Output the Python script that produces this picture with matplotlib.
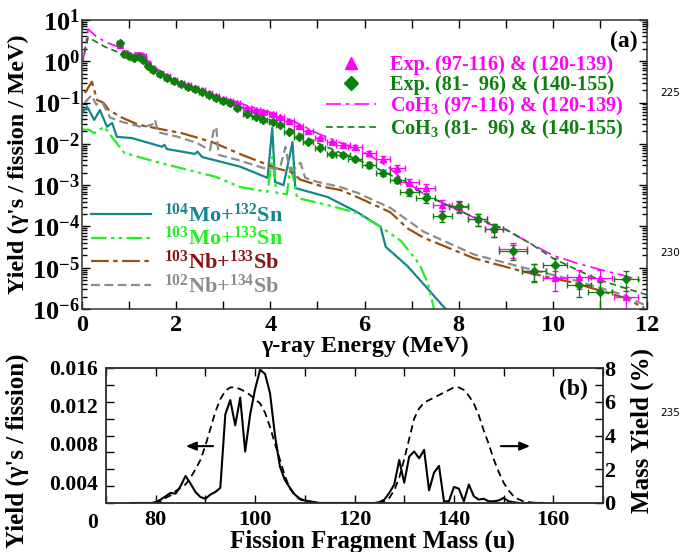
import matplotlib
matplotlib.use('Agg')
import matplotlib.pyplot as plt
import numpy as np
from matplotlib.lines import Line2D
from matplotlib.ticker import MultipleLocator, LogLocator, NullFormatter, FuncFormatter

plt.rcParams['font.family'] = 'Liberation Serif'
plt.rcParams['font.weight'] = 'bold'
plt.rcParams['axes.labelweight'] = 'bold'
plt.rcParams['mathtext.fontset'] = 'custom'
plt.rcParams['mathtext.rm'] = 'Liberation Serif:bold'
plt.rcParams['mathtext.bf'] = 'Liberation Serif:bold'
plt.rcParams['mathtext.it'] = 'Liberation Serif:bold:italic'
plt.rcParams['mathtext.default'] = 'rm'
plt.rcParams['axes.unicode_minus'] = False

# ---- panel (a): experimental gamma spectra ----
exp_E = [0.8, 0.9, 1.0, 1.1, 1.2, 1.3, 1.4, 1.5, 1.65, 1.8, 1.95, 2.1, 2.25, 2.4, 2.55,
         2.7, 2.85, 3.0, 3.15, 3.3, 3.5, 3.7, 3.85, 4.05, 4.2, 4.4, 4.6, 4.8, 5.05, 5.3,
         5.55, 5.8, 6.1, 6.4, 6.7, 6.95, 7.3, 7.65, 8.0, 8.4, 8.75, 9.15, 9.6, 10.05,
         10.55, 11.0, 11.55]
exp_dE = [0.05, 0.05, 0.05, 0.05, 0.05, 0.05, 0.05, 0.05, 0.06, 0.06, 0.06, 0.06, 0.06, 0.06, 0.06,
          0.06, 0.06, 0.06, 0.06, 0.06, 0.08, 0.08, 0.08, 0.08, 0.08, 0.1, 0.1, 0.1, 0.1, 0.1,
          0.15, 0.15, 0.15, 0.15, 0.15, 0.2, 0.2, 0.2, 0.2, 0.2, 0.2, 0.3, 0.25, 0.25,
          0.25, 0.25, 0.25]
exp1_y = [2.5, 1.6, 1.45, 1.35, 1.45, 1.35, 0.9, 0.68, 0.52, 0.43, 0.35, 0.3, 0.26, 0.23, 0.2,
          0.17, 0.145, 0.125, 0.11, 0.095, 0.075, 0.065, 0.058, 0.052, 0.045, 0.035, 0.027, 0.02,
          0.014, 0.011, 0.0093, 0.0083, 0.006, 0.0043, 0.0026, 0.0012, 0.00085, 0.00033, 0.0003,
          0.00015, 8.7e-5, 2.8e-5, 8.5e-6, 5.6e-6, 6e-6, 5.6e-6, 1.9e-6]
exp2_y = [2.8, 1.5, 1.35, 1.2, 1.25, 1.05, 0.78, 0.62, 0.5, 0.4, 0.33, 0.28, 0.24, 0.21, 0.18,
          0.15, 0.13, 0.11, 0.095, 0.075, 0.052, 0.045, 0.038, 0.034, 0.029, 0.0195, 0.0148, 0.011,
          0.0079, 0.0057, 0.0054, 0.0043, 0.0031, 0.002, 0.00135, 0.00069, 0.00049, 0.000178,
          0.00032, 0.00015, 8.7e-5, 2.6e-5, 8.3e-6, 1.17e-5, 3.8e-6, 2.6e-6, 5.4e-6]
exp1_err = [0.06] * 30 + [0.1, 0.12, 0.15, 0.15, 0.18, 0.2, 0.25, 0.3, 0.3, 0.3, 0.35,
                          0.4, 0.45, 0.5, 0.5, 0.55, 0.75]
exp2_err = [0.06] * 30 + [0.1, 0.12, 0.15, 0.15, 0.18, 0.2, 0.25, 0.3, 0.3, 0.3, 0.35,
                          0.4, 0.45, 0.5, 0.5, 0.72, 0.5]

# CoH3 calculations
coh1_E = [0.02, 0.13, 0.3, 0.53, 0.8, 1.0, 1.1, 1.3, 1.4, 1.5, 1.7, 2.0, 2.5, 3.0, 3.5, 4.0,
          4.5, 5.0, 5.5, 6.0, 6.5, 6.8, 7.3, 8.0, 8.5, 9.0, 9.5, 10.0, 10.5, 11.0, 11.5, 11.9]
coh1_y = [1.0, 6.0, 4.0, 2.8, 2.2, 1.7, 1.6, 1.55, 1.2, 0.75, 0.55, 0.32, 0.2, 0.13, 0.085, 0.058,
          0.035, 0.018, 0.0105, 0.0062, 0.0028, 0.0014, 5.7e-4, 2.5e-4, 1.3e-4, 8.3e-5, 4e-5,
          2e-5, 1.3e-5, 9e-6, 6.5e-6, 4.8e-6]
coh2_E = [0.05, 0.13, 0.5, 0.8, 1.0, 1.2, 1.3, 1.5, 2.0, 2.5, 3.0, 3.5, 4.0, 4.5, 5.0, 5.5, 6.0,
          6.5, 7.0, 7.5, 8.0, 8.5, 9.0, 9.5, 10.0, 10.5, 11.0, 11.5, 12.0]
coh2_y = [1.5, 3.8, 2.2, 1.6, 1.2, 1.1, 0.95, 0.62, 0.28, 0.18, 0.115, 0.068, 0.038, 0.021, 0.0105,
          0.006, 0.0035, 0.0019, 0.0009, 4.5e-4, 2.4e-4, 1.4e-4, 8.5e-5, 4e-5, 1.7e-5, 9e-6, 5e-6,
          3.3e-6, 2.2e-6]

# fragment pairs
mo104_E = [0.0, 0.11, 0.26, 0.38, 0.53, 0.64, 0.74, 1.06, 1.7, 1.75, 1.8, 2.4, 2.45, 2.55, 3.36,
           3.94, 4.04, 4.1, 4.28, 4.47, 4.53, 5.21, 5.85, 6.34, 6.45, 6.91, 7.3, 7.72]
mo104_y = [0.056, 0.079, 0.038, 0.066, 0.026, 0.032, 0.0148, 0.0138, 0.0085, 0.0095, 0.0075,
           0.0057, 0.0065, 0.0048, 0.0028, 0.0015, 0.0245, 0.0012, 0.001, 0.011, 0.00085,
           0.00052, 0.00022, 9.8e-5, 3.2e-5, 1.1e-5, 3.5e-6, 1.0e-6]
mo103_E = [0.0, 0.15, 0.26, 0.47, 0.68, 0.9, 1.64, 2.83, 3.36, 3.94, 4.04, 4.13, 4.35, 4.43, 4.57,
           5.21, 5.85, 6.34, 6.77, 7.09, 7.19, 7.34, 7.47, 7.6]
mo103_y = [0.022, 0.022, 0.018, 0.026, 0.0126, 0.006, 0.0035, 0.0016, 9e-4, 6.9e-4, 0.0048,
           6.5e-4, 6e-4, 0.0031, 4.9e-4, 3.3e-4, 2.1e-4, 9.8e-5, 4.5e-5, 1.6e-5, 1.05e-5,
           4.3e-6, 1.07e-6, 5e-7]
nb103_E = [0.06, 0.21, 0.32, 0.45, 0.57, 0.85, 1.2, 1.49, 2.13, 2.77, 3.4, 3.83, 4.1, 4.43, 4.64,
           5.13, 5.49, 5.85, 6.55, 6.91, 7.26, 8.32, 9.38, 10.45, 11.5, 11.94]
nb103_y = [0.17, 0.32, 0.115, 0.1, 0.066, 0.043, 0.029, 0.025, 0.018, 0.011, 0.0054, 0.0035,
           0.0026, 0.0021, 0.00135, 9.1e-4, 7.6e-4, 5.1e-4, 2.2e-4, 9e-5, 5.3e-5, 1.7e-5, 8e-6,
           4.3e-6, 1.9e-6, 1.07e-6]
nb102_E = [0.06, 0.2, 0.3, 0.43, 0.6, 0.85, 1.3, 1.5, 1.55, 1.62, 2.02, 2.44, 2.72, 2.79, 2.85,
           2.9, 3.3, 3.85, 4.2, 4.32, 4.4, 4.5, 4.64, 4.74, 5.0, 5.49, 5.85, 6.55, 7.26, 8.32,
           9.38, 10.45, 11.5, 11.94]
nb102_y = [0.1, 0.15, 0.09, 0.1, 0.043, 0.034, 0.025, 0.03, 0.038, 0.019, 0.015, 0.0105, 0.007,
           0.02, 0.026, 0.0054, 0.0041, 0.0026, 0.0025, 0.0085, 0.0026, 0.0024, 0.0035, 0.0015,
           0.0012, 9e-4, 6.5e-4, 2.8e-4, 7.4e-5, 2.1e-5, 1e-5, 5e-6, 2.2e-6, 1.26e-6]

# ---- panel (b): yield vs fragment mass ----
mass = list(range(75, 159))
gamma_yield = ([0, 0, 0, 0, 0, 0.0001, 0.0004, 0.0008, 0.0012, 0.0011, 0.002, 0.0032, 0.0023,
                0.0013, 0.0007, 0.0005, 0.001, 0.0013, 0.0018, 0.0105, 0.0122, 0.0092, 0.0125,
                0.0061, 0.0105, 0.0135, 0.0158, 0.0153, 0.013, 0.008, 0.0043, 0.0027, 0.0018,
                0.001, 0.0005, 0.0003, 0.0002, 0.0001]
               + [0] * 12
               + [0.0001, 0.0004, 0.0012, 0.0022, 0.0051, 0.0024, 0.0055, 0.0061, 0.0053, 0.0063,
                  0.0015, 0.0036, 0.0044, 0.0002, 0.0002, 0.0019, 0.0017, 0.0002, 0.0022, 0.0008,
                  0.0004, 0.0005, 0.0002, 0.0002, 0.0003, 0.0006, 0.0002, 0.0001]
               + [0] * 6)
mass_yield = ([0] * 5
              + [0.0, 0.1, 0.3, 0.45, 0.7, 0.9, 1.1, 1.5, 2.0, 2.55, 3.4, 4.4, 5.4, 6.15, 6.65,
                 6.85, 6.85, 6.75, 6.6, 6.4, 6.15, 5.9, 5.35, 4.5, 3.5, 2.55, 1.6, 0.85, 0.45,
                 0.22, 0.1, 0.04, 0.0]
              + [0] * 12
              + [0.0, 0.1, 0.3, 0.75, 1.5, 2.6, 3.8, 5.0, 5.6, 5.95, 6.1, 6.25, 6.4, 6.55, 6.7,
                 6.85, 6.85, 6.7, 6.35, 5.9, 5.2, 4.3, 3.5, 2.6, 1.85, 1.2, 0.75, 0.4, 0.22, 0.1,
                 0.05, 0.02, 0.0, 0.0])

magenta = '#ff00ff'
dgreen = '#0b800b'
teal = '#13878c'
lgreen = '#22ee22'
brown = '#99500f'
gray = '#8c8c8c'

fig = plt.figure(figsize=(6.84, 5.52), dpi=100)
ax1 = fig.add_axes([0.1199, 0.4402, 0.8261, 0.5236])

ax1.plot(coh1_E, coh1_y, color=magenta, lw=1.2, ls=(0, (9, 3, 2, 3)))
ax1.plot(coh2_E, coh2_y, color=dgreen, lw=1.2, ls=(0, (4, 2.5)))
ax1.plot(mo104_E, mo104_y, color=teal, lw=1.6)
ax1.plot(mo103_E, mo103_y, color=lgreen, lw=1.6, ls=(0, (7, 2, 1.5, 2, 1.5, 2)))
ax1.plot(nb103_E, nb103_y, color=brown, lw=1.6, ls=(0, (8, 2, 2, 2)))
ax1.plot(nb102_E, nb102_y, color=gray, lw=1.6, ls=(0, (4, 2)))

e1 = np.array(exp1_y) * np.array(exp1_err)
e2 = np.array(exp2_y) * np.array(exp2_err)
ax1.errorbar(exp_E, exp1_y, xerr=exp_dE, yerr=e1, fmt='^', color=magenta, ms=5,
             elinewidth=0.9, capsize=2)
ax1.errorbar(exp_E, exp2_y, xerr=exp_dE, yerr=e2, fmt='D', color=dgreen, ms=4.5,
             elinewidth=0.9, capsize=2)

ax1.set_yscale('log')
ax1.set_xlim(0, 12)
ax1.set_ylim(1e-6, 1e1)
ax1.xaxis.set_major_locator(MultipleLocator(2))
ax1.xaxis.set_minor_locator(MultipleLocator(1))
ax1.yaxis.set_major_locator(LogLocator(base=10, numticks=10))
ax1.yaxis.set_major_formatter(FuncFormatter(lambda v, p: '$10^{%d}$' % round(np.log10(v))))
ax1.yaxis.set_minor_locator(LogLocator(base=10, subs=np.arange(2, 10), numticks=10))
ax1.yaxis.set_minor_formatter(NullFormatter())
ax1.tick_params(which='both', direction='in', top=True, right=True, width=1)
ax1.tick_params(axis='x', which='both', length=6, pad=4.5, labelsize=17.5)
ax1.tick_params(axis='y', which='major', length=6, pad=1.5, labelsize=19)
ax1.tick_params(axis='y', which='minor', length=3.5)
ax1.set_xlabel('γ-ray Energy (MeV)', fontsize=17.3, labelpad=0)
ax1.set_ylabel("Yield (γ's / fission / MeV)", fontsize=17.5)
ax1.yaxis.set_label_coords(-0.094, 0.5)

leg1 = ax1.legend(
    [Line2D([], [], marker='^', color=magenta, ls='none', ms=8),
     Line2D([], [], marker='D', color=dgreen, ls='none', ms=7),
     Line2D([], [], color=magenta, lw=1.2, ls=(0, (9, 3, 2, 3))),
     Line2D([], [], color=dgreen, lw=1.2, ls=(0, (4, 2.5)))],
    ['Exp. (97-116) & (120-139)', 'Exp. (81-  96) & (140-155)',
     'CoH$_3$ (97-116) & (120-139)', 'CoH$_3$ (81-  96) & (140-155)'],
    loc='upper left', bbox_to_anchor=(0.432, 0.88), frameon=False, fontsize=14.6,
    labelcolor=[magenta, dgreen, magenta, dgreen], handlelength=2.45,
    handletextpad=0.72, labelspacing=0.0, borderpad=0, borderaxespad=0)
ax1.add_artist(leg1)

ax1.legend(
    [Line2D([], [], color=teal, lw=1.6),
     Line2D([], [], color=lgreen, lw=1.6, ls=(0, (7, 2, 1.5, 2, 1.5, 2))),
     Line2D([], [], color=brown, lw=1.6, ls=(0, (8, 2, 2, 2))),
     Line2D([], [], color=gray, lw=1.6, ls=(0, (4, 2)))],
    ['$^{104}$Mo+$^{132}$Sn', '$^{103}$Mo+$^{133}$Sn', '$^{103}$Nb+$^{133}$Sb',
     '$^{102}$Nb+$^{134}$Sb'],
    loc='upper left', bbox_to_anchor=(0.016, 0.366), frameon=False, fontsize=16,
    labelcolor=[teal, lgreen, '#8b1212', gray], handlelength=2.7,
    handletextpad=0.6, labelspacing=0.03, borderpad=0, borderaxespad=0)

ax1.text(0.984, 0.924, '(a)', transform=ax1.transAxes, ha='right', va='center', fontsize=17)

# ---- panel (b) ----
ax2 = fig.add_axes([0.155, 0.0888, 0.7266, 0.2445])
ax3 = ax2.twinx()
ax2.plot(mass, gamma_yield, color='black', lw=1.5)
ax3.plot(mass, mass_yield, color='black', lw=1.3, ls=(0, (4, 2.5)))

ax2.set_xlim(70, 170)
ax2.set_ylim(0, 0.016)
ax3.set_ylim(0, 8)
ax2.xaxis.set_major_locator(MultipleLocator(20))
ax2.xaxis.set_minor_locator(MultipleLocator(10))
ax2.yaxis.set_major_locator(MultipleLocator(0.004))
ax2.yaxis.set_minor_locator(MultipleLocator(0.002))
ax2.yaxis.set_major_formatter(NullFormatter())
ax3.yaxis.set_major_locator(MultipleLocator(2))
ax3.yaxis.set_minor_locator(MultipleLocator(1))
ax2.tick_params(which='both', direction='in', top=True, length=6, width=1, labelsize=16, pad=5)
ax3.tick_params(which='both', direction='in', length=6, width=1, labelsize=16, pad=1)

# left tick labels sit on their own (offset) scale in the original figure
for v, lab in zip([0, 0.004, 0.008, 0.012, 0.016], ['0', '0.004', '0.008', '0.012', '0.016']):
    ax2.text(-0.016, -0.148 + v / 0.016 * 1.133, lab, transform=ax2.transAxes,
             ha='right', va='center', fontsize=15.5)

ax2.set_xlabel('Fission Fragment Mass (u)', fontsize=18)
ax2.xaxis.set_label_coords(0.537, -0.2)
ax2.set_ylabel("Yield (γ's / fission)", fontsize=18)
ax2.yaxis.set_label_coords(-0.155, 0.39)
ax3.set_ylabel('Mass Yield (%)', fontsize=18)
ax3.yaxis.set_label_coords(1.055, 0.54)

ax3.annotate('', xy=(85.5, 3.37), xytext=(92.1, 3.37),
             arrowprops=dict(arrowstyle='-|>,head_length=0.6,head_width=0.25', color='black', lw=1.5))
ax3.annotate('', xy=(155.9, 3.37), xytext=(148.9, 3.37),
             arrowprops=dict(arrowstyle='-|>,head_length=0.6,head_width=0.25', color='black', lw=1.5))
ax2.text(0.97, 0.844, '(b)', transform=ax2.transAxes, ha='right', va='center', fontsize=17)

for ax in (ax1, ax2, ax3):
    for s in ax.spines.values():
        s.set_linewidth(1.1)
        s.set_color('#333333')

# manuscript line numbers
for yy, t in [(93, '225'), (253, '230'), (413, '235')]:
    fig.text(670 / 684, 1 - yy / 552, t, family='DejaVu Sans', fontweight='normal',
             fontsize=7.5, ha='center', va='center')

fig.savefig('out.png', dpi=100)
